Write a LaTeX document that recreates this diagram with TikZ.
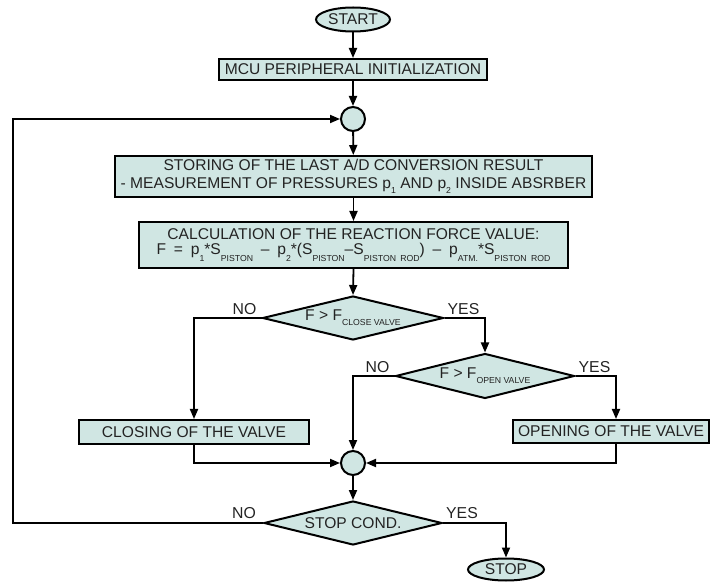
\documentclass[tikz,border=0pt]{standalone}
\usepackage{fontspec}
\setmainfont{Liberation Sans}
\usetikzlibrary{shapes.geometric,arrows.meta,calc}
\definecolor{boxfill}{RGB}{208,230,227}
\definecolor{txt}{RGB}{35,35,35}
\newcommand\lowsub[1]{\raisebox{-5pt}{\fontsize{8.7}{9}\selectfont #1}}
\newcommand\lowsubf[1]{\raisebox{-7pt}{\fontsize{8.7}{9}\selectfont #1}}
\begin{document}
\begin{tikzpicture}[x=1pt,y=-1pt,
  base/.style={draw=black, fill=boxfill, line width=2pt, text=txt,
    font=\fontsize{15.6}{17.5}\selectfont, inner sep=0pt},
  procbox/.style={base, rectangle, align=center},
  term/.style={base, ellipse},
  junc/.style={base, circle, minimum size=24pt},
  decision/.style={base, diamond, aspect=4.1},
  conn/.style={line width=1.8pt, -{Triangle[length=10pt,width=8pt]}},
  plain/.style={line width=1.8pt},
  lbl/.style={text=txt, font=\fontsize{15.8}{17}\selectfont, inner sep=0pt}
]
\useasboundingbox (0,0) rectangle (710,585);

\node[term, minimum width=74pt, minimum height=24pt] (start) at (353,19.5) {START};
\node[procbox, minimum width=268pt, minimum height=21pt] (mcu) at (353,69.5) {MCU PERIPHERAL INITIALIZATION};
\node[junc] (c1) at (353,119) {};
\node[procbox, minimum width=477pt, minimum height=41pt] (store) at (353.5,176.5)
  {STORING OF THE LAST A/D CONVERSION RESULT\\
   - MEASUREMENT OF PRESSURES p\lowsub{1} AND p\lowsub{2} INSIDE ABSRBER};
\node[procbox, minimum width=429pt, minimum height=46pt] (calc) at (353.5,245)
  {CALCULATION OF THE REACTION FORCE VALUE:\\[-2pt]
   F\enspace=\enspace p\lowsubf{1}*S\lowsubf{PISTON}\enspace\textendash\enspace p\lowsubf{2}*(S\lowsubf{PISTON}\textendash S\lowsubf{PISTON\enspace ROD})\enspace\textendash\enspace p\lowsubf{ATM.}*S\lowsubf{PISTON\enspace ROD}};
\node[decision, minimum width=181pt, minimum height=44pt] (d1) at (353,318) {F > F\lowsub{CLOSE VALVE}};
\node[decision, minimum width=179pt, minimum height=45pt] (d2) at (485,376) {F > F\lowsub{OPEN VALVE}};
\node[procbox, minimum width=230pt, minimum height=24pt] (close) at (194,432) {CLOSING OF THE VALVE};
\node[procbox, minimum width=196pt, minimum height=23pt] (open) at (611,431.5) {OPENING OF THE VALVE};
\node[junc] (c2) at (353,463) {};
\node[decision, minimum width=178pt, minimum height=44pt] (d3) at (353,523) {STOP COND.};
\node[term, minimum width=76pt, minimum height=22pt] (stop) at (506,569.5) {STOP};
\coordinate (loopc) at (13,523);

% connectors
\draw[conn] (start) -- (mcu);
\draw[conn] (mcu) -- (c1);
\draw[conn] (c1) -- (store);
\draw[conn] (store) -- (calc);
\draw[conn] (calc.south) -- (d1.north);
\draw[conn] (d1.east) -| (d2.north);
\draw[conn] (d1.west) -| (close.north);
\draw[conn] (d2.west) -| (c2.north);
\draw[conn] (d2.east) -| ([xshift=5pt]open.north);
\draw[conn] (close.south) |- (c2.west);
\draw[conn] ([xshift=5pt]open.south) |- (c2.east);
\draw[conn] (c2) -- (d3);
\draw[conn] (d3.west) -- (loopc) |- (c1.west);
\draw[conn] (d3.east) -| (stop.north);

% labels
\node[lbl, anchor=south east] (no1) at ($(d1.west)+(-5,-3)$) {NO};
\node[lbl, anchor=south west] (yes1) at ($(d1.east)+(3,-3)$) {YES};
\node[lbl, anchor=south east] (no2) at ($(d2.west)+(-5,-3)$) {NO};
\node[lbl, anchor=south west] (yes2) at ($(d2.east)+(3,-3)$) {YES};
\node[lbl, anchor=south east] (no3) at ($(d3.west)+(-7,-4)$) {NO};
\node[lbl, anchor=south west] (yes3) at ($(d3.east)+(3,-4)$) {YES};
\end{tikzpicture}
\end{document}
